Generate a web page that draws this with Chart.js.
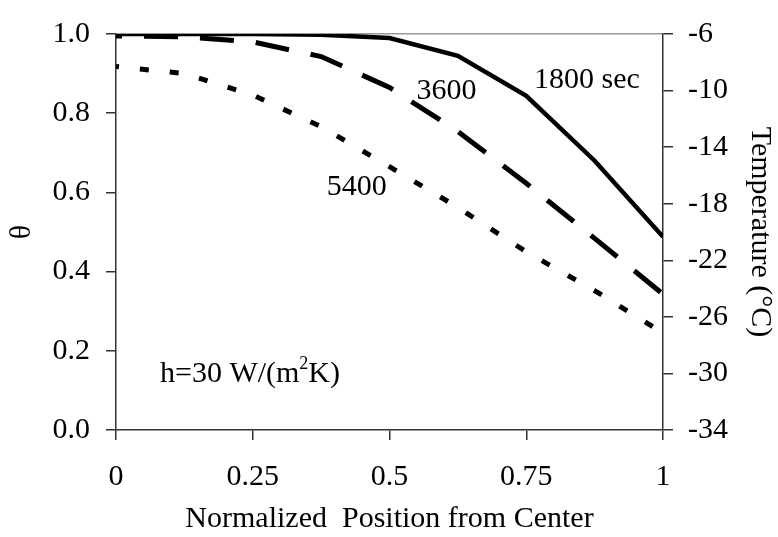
<!DOCTYPE html>
<html>
<head>
<meta charset="utf-8">
<script src="https://cdn.jsdelivr.net/npm/chart.js@4.4.1/dist/chart.umd.min.js"></script>
<style>
  html, body { margin: 0; padding: 0; background: #fff; }
  #wrap { width: 778px; height: 537px; }
</style>
</head>
<body>
<div id="wrap"><canvas id="chart" width="778" height="537"></canvas></div>
<script>
// normalized position from center
const positions = [0, 0.125, 0.25, 0.375, 0.5, 0.625, 0.75, 0.875, 1];
// theta at each position, one list per time
const theta1800 = [1.0, 1.0, 1.0, 0.998, 0.99, 0.945, 0.844, 0.68, 0.488];
const theta3600 = [0.995, 0.993, 0.98, 0.943, 0.865, 0.754, 0.623, 0.484, 0.343];
const theta5400 = [0.918, 0.9, 0.846, 0.766, 0.665, 0.562, 0.45, 0.352, 0.245];

const xTicks = [0, 0.25, 0.5, 0.75, 1];
const xTickLabels = ["0", "0.25", "0.5", "0.75", "1"];
const tempMin = -34, tempMax = -6, tempStep = 4;

const FONT = "'Liberation Serif', 'Times New Roman', serif";
const SIZE = 30;
const AXIS = "#333";

function points(ys) {
  return positions.map((x, i) => ({ x: x, y: ys[i] }));
}

// curve labels and the h note, placed in data coordinates
const notes = {
  id: "notes",
  afterDatasetsDraw(chart) {
    const { ctx, scales: { x, y } } = chart;
    ctx.save();
    ctx.fillStyle = "#000";
    ctx.font = SIZE + "px " + FONT;
    ctx.textBaseline = "alphabetic";
    ctx.textAlign = "center";
    ctx.fillText("1800 sec", x.getPixelForValue(0.861), y.getPixelForValue(0.863));
    ctx.fillText("3600", x.getPixelForValue(0.604), y.getPixelForValue(0.836));
    ctx.fillText("5400", x.getPixelForValue(0.44), y.getPixelForValue(0.593));

    // h=30 W/(m²K) with a raised 2
    ctx.textAlign = "left";
    let px = x.getPixelForValue(0.0804);
    const py = y.getPixelForValue(0.122);
    const a = "h=30 W/(m";
    ctx.fillText(a, px, py);
    px += ctx.measureText(a).width;
    ctx.font = "18px " + FONT;
    ctx.fillText("2", px, py - 13);
    px += ctx.measureText("2").width;
    ctx.font = SIZE + "px " + FONT;
    ctx.fillText("K)", px, py);
    ctx.restore();
  }
};

new Chart(document.getElementById("chart"), {
  type: "line",
  data: {
    datasets: [
      {
        label: "1800 sec",
        data: points(theta1800),
        borderColor: "#000",
        borderWidth: 4.5,
        pointRadius: 0,
        tension: 0
      },
      {
        label: "3600",
        data: points(theta3600),
        borderColor: "#000",
        borderWidth: 5,
        borderDash: [34, 22],
        borderDashOffset: 28,
        borderCapStyle: "butt",
        pointRadius: 0,
        tension: 0
      },
      {
        label: "5400",
        data: points(theta5400),
        borderColor: "#000",
        borderWidth: 5,
        borderDash: [9, 21],
        borderDashOffset: 6,
        borderCapStyle: "butt",
        pointRadius: 0,
        tension: 0
      }
    ]
  },
  plugins: [notes],
  options: {
    responsive: false,
    animation: false,
    layout: { padding: { top: 23, left: 0, right: 0, bottom: 0 } },
    plugins: {
      legend: { display: false },
      tooltip: { enabled: false }
    },
    scales: {
      x: {
        type: "linear",
        min: 0,
        max: 1,
        afterBuildTicks: (scale) => {
          scale.ticks = xTicks.map((v) => ({ value: v }));
        },
        afterFit: (scale) => { scale.height = 107; },
        ticks: {
          color: "#000",
          font: { family: FONT, size: SIZE },
          padding: 19,
          maxRotation: 0,
          autoSkip: false,
          callback: (v) => xTickLabels[xTicks.indexOf(v)]
        },
        grid: { drawOnChartArea: false, tickLength: 10, color: AXIS, lineWidth: 1.5 },
        border: { color: AXIS, width: 1.5 },
        title: {
          display: true,
          text: "Normalized  Position from Center",
          color: "#000",
          font: { family: FONT, size: SIZE, lineHeight: 1.2 },
          padding: { top: 0, bottom: 0 }
        }
      },
      y: {
        position: "left",
        min: 0,
        max: 1,
        afterFit: (scale) => { scale.width = 116; },
        ticks: {
          stepSize: 0.2,
          color: "#000",
          font: { family: FONT, size: SIZE },
          padding: 16,
          callback: (v) => v.toFixed(1)
        },
        grid: {
          drawOnChartArea: true,
          tickLength: 10,
          color: (c) => (c.tick && c.tick.value === 1 ? "#999" : "rgba(0,0,0,0)"),
          tickColor: AXIS,
          lineWidth: 1.5
        },
        border: { color: AXIS, width: 1.5 },
        title: {
          display: true,
          text: "θ",
          color: "#000",
          font: { family: FONT, size: SIZE, lineHeight: 1.2 },
          padding: { top: 4, bottom: 0 }
        }
      },
      y2: {
        position: "right",
        min: tempMin,
        max: tempMax,
        afterFit: (scale) => { scale.width = 115; },
        ticks: {
          stepSize: tempStep,
          color: "#000",
          font: { family: FONT, size: SIZE },
          padding: 15
        },
        grid: { drawOnChartArea: false, tickLength: 10, color: AXIS, lineWidth: 1.5 },
        border: { color: AXIS, width: 1.5 },
        title: {
          display: true,
          text: "Temperature (°C)",
          color: "#000",
          font: { family: FONT, size: SIZE, lineHeight: 1.2 },
          padding: { top: 0, bottom: 0 }
        }
      }
    }
  }
});
</script>
</body>
</html>
